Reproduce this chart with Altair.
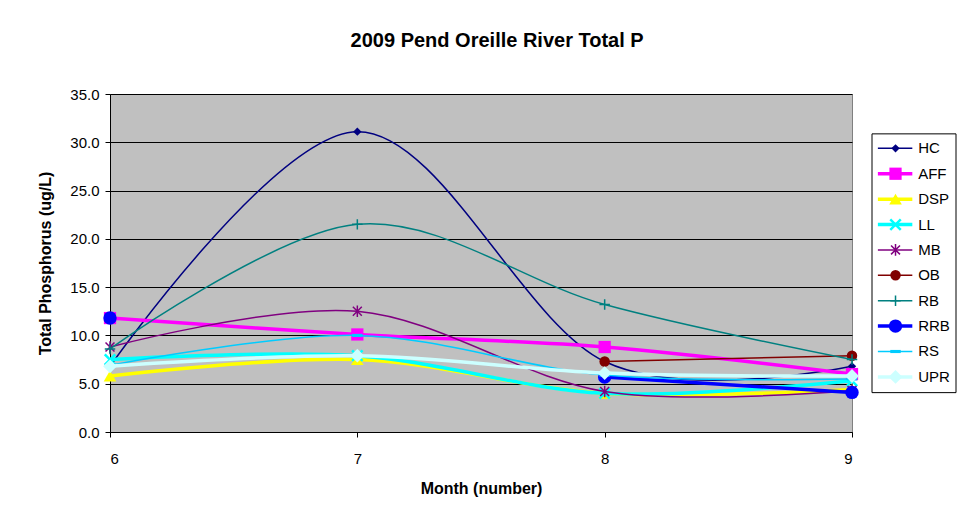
import altair as alt
import pandas as pd

months = [6, 7, 8, 9]
series = ["HC", "AFF", "DSP", "LL", "MB", "OB", "RB", "RRB", "RS", "UPR"]

hc = [6.8, 31.1, 7.3, 6.8]
aff = [11.8, 10.1, 8.8, 6.0]
dsp = [5.8, 7.5, 4.0, 4.4]
ll = [7.5, 7.9, 4.0, 5.3]
mb = [8.8, 12.5, 4.2, 4.3]
ob = [None, None, 7.3, 7.9]
rb = [8.6, 21.5, 13.2, 7.5]
rrb = [11.8, None, 5.7, 4.1]
rs = [6.9, 10.0, 5.9, 5.5]
upr = [6.8, 7.9, 6.1, 5.8]

values = {"HC": hc, "AFF": aff, "DSP": dsp, "LL": ll, "MB": mb,
          "OB": ob, "RB": rb, "RRB": rrb, "RS": rs, "UPR": upr}

X_PATH = "M-1,-1L1,1M-1,1L1,-1"
STAR_PATH = "M-1,-1L1,1M-1,1L1,-1M0,-1.3L0,1.3"
PLUS_PATH = "M-1,0L1,0M0,-1L0,1"
DASH_PATH = "M-1,-0.3L1,-0.3L1,0.3L-1,0.3Z"

# color, line width, shape, size, filled, marker stroke width
styles = {
    "HC":  ("#000080", 1.5, "diamond", 70, True, 1),
    "AFF": ("#FF00FF", 3.5, "square", 150, True, 1),
    "DSP": ("#FFFF00", 3.5, "triangle-up", 160, True, 1),
    "LL":  ("#00FFFF", 3.5, X_PATH, 110, False, 2.5),
    "MB":  ("#800080", 1.5, STAR_PATH, 80, False, 1.5),
    "OB":  ("#800000", 1.5, "circle", 110, True, 1),
    "RB":  ("#008080", 1.5, PLUS_PATH, 110, False, 1.5),
    "RRB": ("#0000FF", 3.5, "circle", 180, True, 1),
    "RS":  ("#00CCFF", 1.5, DASH_PATH, 110, True, 1),
    "UPR": ("#CCFFFF", 3.5, "diamond", 190, True, 1),
}

FONT = "Liberation Sans"

x_enc = alt.X("month:Q",
              scale=alt.Scale(domain=[6, 9], nice=False, zero=False),
              axis=alt.Axis(values=months, format="d", title="Month (number)",
                            grid=False, tickSize=5, labelPadding=14,
                            titlePadding=14))
y_enc = alt.Y("value:Q",
              scale=alt.Scale(domain=[0, 35], nice=False),
              axis=alt.Axis(values=[0, 5, 10, 15, 20, 25, 30, 35], format=".1f",
                            title="Total Phosphorus (ug/L)", grid=True,
                            gridColor="#000000", gridWidth=1, tickSize=5,
                            labelPadding=6, titlePadding=16))

layers = []
for s in series:
    rows = []
    seg = 0
    for m, v in zip(months, values[s]):
        if v is None:
            seg += 1
            continue
        rows.append({"series": s, "month": m, "value": v, "seg": seg})
    df = pd.DataFrame(rows)
    color, lw, shape, size, filled, msw = styles[s]
    line = alt.Chart(df).mark_line(color=color, strokeWidth=lw,
                                   interpolate="cardinal").encode(
        x=x_enc, y=y_enc, detail="seg:N")
    pts = alt.Chart(df).mark_point(shape=shape, size=size, filled=filled,
                                   color=color, strokeWidth=msw,
                                   opacity=1).encode(x=x_enc, y=y_enc)
    layers += [line, pts]

main = alt.layer(*layers).properties(
    width=742, height=338,
    view=alt.ViewBackground(fill="#C0C0C0", stroke="#808080"))

# legend panel
leg_rows = pd.DataFrame({"series": series, "row": list(range(len(series))),
                         "x0": 0.07, "x1": 0.48, "xm": 0.28, "xt": 0.55})
box_df = pd.DataFrame({"bx": [0.0], "bx2": [1.0], "by": [-0.57], "by2": [9.62]})

lx = alt.Scale(domain=[0, 1], nice=False, zero=False)
ly = alt.Scale(domain=[-2.14, 11.17], nice=False, zero=False, reverse=True)

leg_layers = [
    alt.Chart(box_df).mark_rect(fill="white", stroke="black", strokeWidth=1).encode(
        x=alt.X("bx:Q", scale=lx, axis=None), x2="bx2:Q",
        y=alt.Y("by:Q", scale=ly, axis=None), y2="by2:Q")
]
for s in series:
    color, lw, shape, size, filled, msw = styles[s]
    d = leg_rows[leg_rows.series == s]
    leg_layers.append(alt.Chart(d).mark_rule(color=color, strokeWidth=lw).encode(
        x=alt.X("x0:Q", scale=lx, axis=None), x2="x1:Q",
        y=alt.Y("row:Q", scale=ly, axis=None)))
    leg_layers.append(alt.Chart(d).mark_point(shape=shape, size=size, filled=filled,
                                              color=color, strokeWidth=msw,
                                              opacity=1).encode(
        x=alt.X("xm:Q", scale=lx, axis=None),
        y=alt.Y("row:Q", scale=ly, axis=None)))
leg_layers.append(alt.Chart(leg_rows).mark_text(align="left", baseline="middle",
                                                font=FONT, fontSize=15,
                                                color="black").encode(
    x=alt.X("xt:Q", scale=lx, axis=None),
    y=alt.Y("row:Q", scale=ly, axis=None),
    text="series:N"))

legend = alt.layer(*leg_layers).properties(
    width=84, height=338,
    view=alt.ViewBackground(stroke="transparent"))

chart = alt.hconcat(main, legend, spacing=20, bounds="flush").properties(
    title=alt.TitleParams("2009 Pend Oreille River Total P", font=FONT,
                          fontSize=20, fontWeight="bold", color="black",
                          anchor="middle", offset=36),
    padding={"left": 29, "top": 22, "right": 0, "bottom": 3},
    background="white",
).configure_axis(
    labelFont=FONT, labelFontSize=15, labelColor="black",
    titleFont=FONT, titleFontSize=16, titleFontWeight="bold", titleColor="black",
    domainColor="black", tickColor="black",
)

chart.save("out.html", embed_options={"renderer": "svg", "actions": False})
